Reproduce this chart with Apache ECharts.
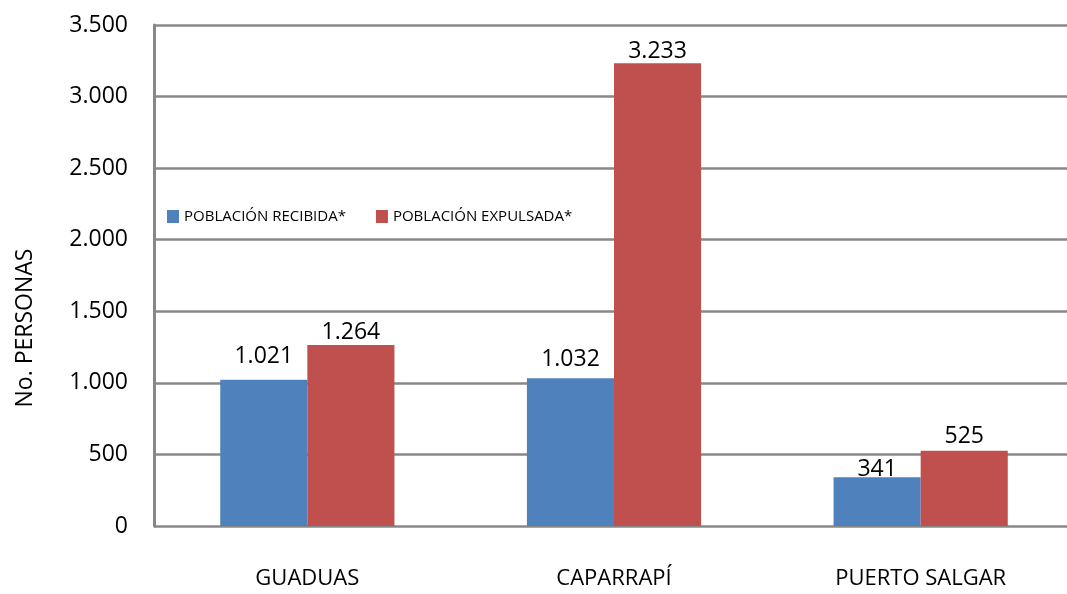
<!DOCTYPE html>
<html>
<head>
<meta charset="utf-8">
<script src="https://cdn.jsdelivr.net/npm/echarts@6/dist/echarts.min.js"></script>
<style>
  html, body { margin: 0; padding: 0; background: #fff; overflow: hidden; }
  #chart { width: 1074px; height: 594px; }
</style>
</head>
<body>
<div id="chart"></div>
<script>
// municipios y valores
const categories = ['GUADUAS', 'CAPARRAPÍ', 'PUERTO SALGAR']
const recibida = [1021, 1032, 341]
const expulsada = [1264, 3233, 525]
const seriesNames = ['POBLACIÓN RECIBIDA*', 'POBLACIÓN EXPULSADA*']

// separacion de cada etiqueta sobre su barra (como en el original)
const gapRecibida = [14, 9, -2]
const gapExpulsada = [3, 2, 5]

const fmt = v => String(v).replace(/\B(?=(\d{3})+(?!\d))/g, '.')

const labelStyle = {
  show: true,
  position: 'top',
  color: '#000',
  fontSize: 23,
  fontFamily: 'Open Sans',
  formatter: p => fmt(p.value)
}

const withGaps = (vals, gaps) => vals.map((v, i) => ({
  value: v,
  label: { distance: gaps[i] - 2 }
}))

const chart = echarts.init(document.getElementById('chart'))
chart.setOption({
  animation: false,
  textStyle: { fontFamily: 'Open Sans' },
  grid: { left: 154, right: 0, top: 25, bottom: 68 },
  legend: {
    left: 162,
    top: 204,
    itemWidth: 12,
    itemHeight: 13,
    itemGap: 30,
    icon: 'rect',
    textStyle: { fontSize: 15, color: '#000', fontFamily: 'Open Sans' },
    data: seriesNames
  },
  graphic: [{
    type: 'text',
    x: 25,
    y: 328,
    rotation: Math.PI / 2,
    style: {
      text: 'No. PERSONAS',
      fontSize: 23,
      fill: '#000',
      fontFamily: 'Open Sans',
      align: 'center',
      verticalAlign: 'middle'
    }
  }],
  xAxis: {
    type: 'category',
    data: categories,
    axisLine: { show: false },
    axisTick: { show: false },
    axisLabel: { fontSize: 22, color: '#000', margin: 42, fontFamily: 'Open Sans' }
  },
  yAxis: {
    type: 'value',
    min: 0,
    max: 3500,
    interval: 500,
    axisLine: { show: true, lineStyle: { color: '#888', width: 3 } },
    axisTick: { show: false },
    axisLabel: { fontSize: 23, color: '#000', margin: 26, formatter: fmt },
    splitLine: { lineStyle: { color: '#888', width: 2.5 } }
  },
  series: [
    {
      name: seriesNames[0],
      type: 'bar',
      data: withGaps(recibida, gapRecibida),
      barWidth: '28.4%',
      barGap: '0%',
      itemStyle: { color: '#4F81BD' },
      label: labelStyle
    },
    {
      name: seriesNames[1],
      type: 'bar',
      data: withGaps(expulsada, gapExpulsada),
      barWidth: '28.4%',
      itemStyle: { color: '#C0504D' },
      label: labelStyle
    }
  ]
})
</script>
</body>
</html>
